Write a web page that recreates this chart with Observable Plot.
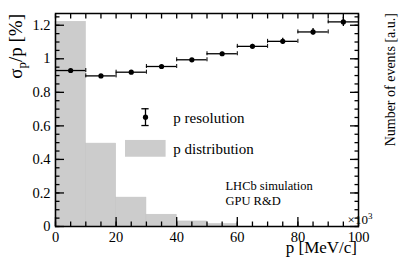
<!DOCTYPE html>
<html><head><meta charset="utf-8">
<script src="https://cdn.jsdelivr.net/npm/d3@7"></script>
<script src="https://cdn.jsdelivr.net/npm/@observablehq/plot@0.6"></script>
<style>
html,body{margin:0;padding:0;background:#fff;}
svg text{font-family:'Liberation Serif',serif;}
</style>
</head><body>
<div id="chart"></div>
<script>
// bins of momentum p [×10^3 MeV/c]
const binLo = [0,10,20,30,40,50,60,70,80,90];
const binHi = [10,20,30,40,50,60,70,80,90,100];
const binCenter = [5,15,25,35,45,55,65,75,85,95];
// p resolution sigma_p/p [%]
const resolution = [0.93,0.898,0.92,0.954,0.994,1.03,1.074,1.104,1.16,1.22];
const resolutionErr = [0.007,0.007,0.007,0.007,0.007,0.009,0.012,0.018,0.02,0.028];
// p distribution, number of events [a.u. ×10^3]
const distribution = [1.22,0.494,0.172,0.07,0.03,0.014,0,0,0,0];
// tick values
const xMajor = [0,20,40,60,80,100];
const xMinor = d3.range(0,101,5);
const yMajor = [0,0.2,0.4,0.6,0.8,1,1.2];
const yMinor = d3.range(0,1.26,0.05);

const hist = binLo.map((lo,i)=>({lo, hi: binHi[i], n: distribution[i]}));
const res = binCenter.map((c,i)=>({c, lo: binLo[i], hi: binHi[i], v: resolution[i], e: resolutionErr[i]}));

const serif = "Liberation Serif";
const capH = 0.012;
const fmt = d3.format("~g");

const plot = Plot.plot({
  width: 399, height: 270,
  marginLeft: 55, marginRight: 41, marginTop: 13, marginBottom: 44,
  style: {fontFamily: serif, fontSize: "14px", background: "#fff", color: "#000"},
  x: {domain: [0,100]},
  y: {domain: [0,1.27]},
  marks: [
    Plot.rectY(hist, {x1: "lo", x2: "hi", y: "n", fill: "#cccccc", stroke: "#c4c4c4", strokeWidth: 0.6}),
    Plot.ruleY(res, {x1: "lo", x2: "hi", y: "v", stroke: "#000", strokeWidth: 1.3}),
    Plot.ruleX(res, {x: "lo", y1: d=>d.v-capH, y2: d=>d.v+capH, stroke: "#000", strokeWidth: 1}),
    Plot.ruleX(res, {x: "hi", y1: d=>d.v-capH, y2: d=>d.v+capH, stroke: "#000", strokeWidth: 1}),
    Plot.ruleX(res, {x: "c", y1: d=>d.v-d.e, y2: d=>d.v+d.e, stroke: "#000", strokeWidth: 1.3}),
    Plot.dot(res, {x: "c", y: "v", r: 2.6, fill: "#000"}),
    // axes: labels
    Plot.axisX({anchor: "bottom", ticks: xMajor, tickFormat: fmt, tickSize: 0, tickPadding: 5, label: null, fontSize: 14.5, fontFamily: serif}),
    Plot.axisY({anchor: "left", ticks: yMajor, tickFormat: fmt, tickSize: 0, tickPadding: 5, label: null, fontSize: 14.5, fontFamily: serif}),
    // inward ticks
    Plot.axisX({anchor: "bottom", ticks: xMajor, tickSize: -9, fill: "none", label: null, strokeWidth: 1.3}),
    Plot.axisX({anchor: "bottom", ticks: xMinor, tickSize: -4.5, fill: "none", label: null, strokeWidth: 1.3}),
    Plot.axisX({anchor: "top", ticks: xMinor, tickSize: -4.5, fill: "none", label: null, strokeWidth: 1.3}),
    Plot.axisY({anchor: "left", ticks: yMajor, tickSize: -9, fill: "none", label: null, strokeWidth: 1.3}),
    Plot.axisY({anchor: "left", ticks: yMinor, tickSize: -4.5, fill: "none", label: null, strokeWidth: 1.3}),
    Plot.axisY({anchor: "right", ticks: yMajor, tickSize: -9, fill: "none", label: null, strokeWidth: 1.3}),
    Plot.axisY({anchor: "right", ticks: yMinor, tickSize: -4.5, fill: "none", label: null, strokeWidth: 1.3}),
    // legend
    Plot.ruleX([{x: 29.7, y: 0.652}], {x: "x", y1: d=>d.y-0.05, y2: d=>d.y+0.05, stroke: "#000", strokeWidth: 1.3}),
    Plot.ruleY([{x: 29.7, y: 0.702},{x: 29.7, y: 0.602}], {x1: d=>d.x-1.2, x2: d=>d.x+1.2, y: "y", stroke: "#000", strokeWidth: 1.3}),
    Plot.dot([{x: 29.7, y: 0.652}], {x: "x", y: "y", r: 2.6, fill: "#000"}),
    Plot.rect([{x1: 23.1, x2: 36.5, y1: 0.413, y2: 0.513}], {x1: "x1", x2: "x2", y1: "y1", y2: "y2", fill: "#cccccc"}),
    Plot.text(["p resolution"], {x: 38.9, y: 0.648, text: d=>d, textAnchor: "start", fontSize: 15, fontFamily: serif}),
    Plot.text(["p distribution"], {x: 38.9, y: 0.463, text: d=>d, textAnchor: "start", fontSize: 15, fontFamily: serif}),
    Plot.text(["LHCb simulation"], {x: 56.1, y: 0.24, text: d=>d, textAnchor: "start", fontSize: 12.5, fontFamily: serif}),
    Plot.text(["GPU R&D"], {x: 56.1, y: 0.15, text: d=>d, textAnchor: "start", fontSize: 12.5, fontFamily: serif}),
    Plot.frame({stroke: "#000", strokeWidth: 1.5})
  ]
});

const svg = d3.select(plot);
// y title
const yt = svg.append("text")
  .attr("transform", "translate(22,14) rotate(-90)")
  .attr("text-anchor", "end")
  .attr("font-family", serif)
  .attr("font-size", 19).attr("fill", "#000");
yt.append("tspan").text("σ");
yt.append("tspan").attr("dy", 4).attr("font-size", 13).text("p");
yt.append("tspan").attr("dy", -4).text("/p [%]");
// right title
svg.append("text")
  .attr("transform", "translate(395,13) rotate(-90)")
  .attr("text-anchor", "end")
  .attr("font-family", serif)
  .attr("font-size", 14).attr("fill", "#000")
  .text("Number of events [a.u.]");
// x title
svg.append("text")
  .attr("x", 357).attr("y", 253)
  .attr("text-anchor", "end")
  .attr("font-family", serif)
  .attr("font-size", 17).attr("fill", "#000")
  .text("p [MeV/c]");
// x10^3
const ex = svg.append("text")
  .attr("x", 360).attr("y", 224)
  .attr("font-family", serif)
  .attr("font-size", 13).attr("fill", "#000");
ex.append("tspan").text("×10");
ex.append("tspan").attr("dy", -5).attr("font-size", 9).text("3");

document.getElementById("chart").appendChild(plot);
</script>
</body></html>
